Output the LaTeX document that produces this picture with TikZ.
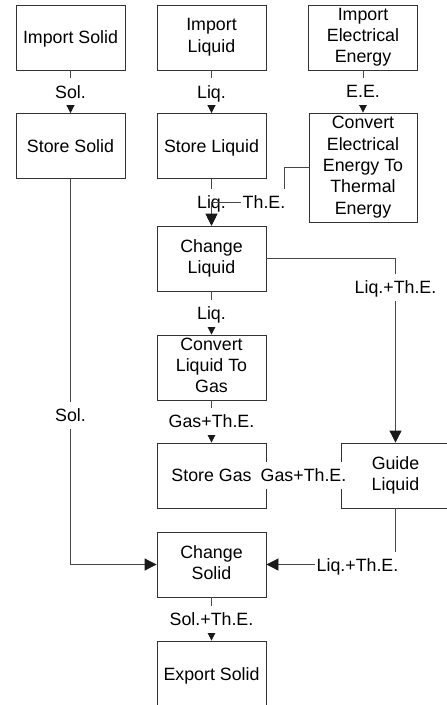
\documentclass[tikz,border=0pt]{standalone}
\usepackage{fontspec}
\setmainfont{Liberation Sans}
\usetikzlibrary{arrows.meta}
\newcommand\mystrut{\rule[-4.3pt]{0pt}{21.3pt}}
\begin{document}
\begin{tikzpicture}[x=1pt,y=-1pt,
  txt/.style={font=\fontsize{17.8}{21.3}\selectfont, text=black,
    execute at begin node={\mystrut}, execute at end node={\mystrut}},
  box/.style={txt, draw=black!80, line width=0.8pt, minimum width=109pt, minimum height=65pt, align=center, inner sep=0pt},
  lbl/.style={txt, fill=white, inner xsep=2pt, inner ysep=0pt, minimum height=27pt},
  conn/.style={draw=black!72, line width=0.8pt},
  sa/.style={-{Triangle[length=8.5pt,width=8.5pt,color=black!90]}},
  la/.style={-{Triangle[length=12pt,width=12pt,color=black!90]}}
]
\useasboundingbox (0,0) rectangle (447,705);
% boxes
\node[box] (is) at (70.5,37.5) {Import Solid};
\node[box] (il) at (211.5,37.5) {Import\\Liquid};
\node[box] (iee) at (363,37.5) {Import\\Electrical\\Energy};
\node[box] (ss) at (70.5,146) {Store Solid};
\node[box] (sl) at (211.5,146) {Store Liquid};
\node[box, minimum width=108pt, minimum height=109pt] (cee) at (363,167.5) {Convert\\Electrical\\Energy To\\Thermal\\Energy};
\node[box] (cl) at (211.5,258.5) {Change\\Liquid};
\node[box] (clg) at (211.5,367.5) {Convert\\Liquid To\\Gas};
\node[box] (sg) at (211.5,475.5) {Store Gas};
\node[box] (gl) at (395.5,475.5) {Guide\\Liquid};
\node[box] (cs) at (211.5,564.5) {Change\\Solid};
\node[box, minimum height=66pt] (es) at (211.5,674) {Export Solid};
% connectors
\draw[conn,sa] (is) -- node[lbl] (l1) {Sol.} (ss);
\draw[conn,sa] (il) -- node[lbl] (l2) {Liq.} (sl);
\draw[conn,sa] (iee) -- node[lbl] (l3) {E.E.} (cee);
\draw[conn,sa] (sl) -- node[lbl] (l4) {Liq.} (cl);
\coordinate (t1) at (284,202);
\coordinate (t2) at (211.5,202);
\draw[conn,la] (cee.west) -| (t1) -- (t2) -- (cl.north);
\node[lbl] (l5) at (264,202) {Th.E.};
\draw[conn,sa] (cl) -- node[lbl] (l6) {Liq.} (clg);
\draw[conn,sa] (clg) -- node[lbl] (l7) {Gas+Th.E.} (sg);
\draw[conn,la] (cl.east) -| (gl.north);
\node[lbl] (l8) at (395.5,287) {Liq.+Th.E.};
\draw[conn] (gl) -- node[lbl] (l9) {Gas+Th.E.} (sg);
\draw[conn,la] (ss) |- (cs);
\node[lbl] (l10) at (70.5,415) {Sol.};
\draw[conn,la] (gl) |- (cs);
\node[lbl] (l11) at (357.5,565) {Liq.+Th.E.};
\draw[conn,sa] (cs) -- node[lbl] (l12) {Sol.+Th.E.} (es);
\end{tikzpicture}
\end{document}
